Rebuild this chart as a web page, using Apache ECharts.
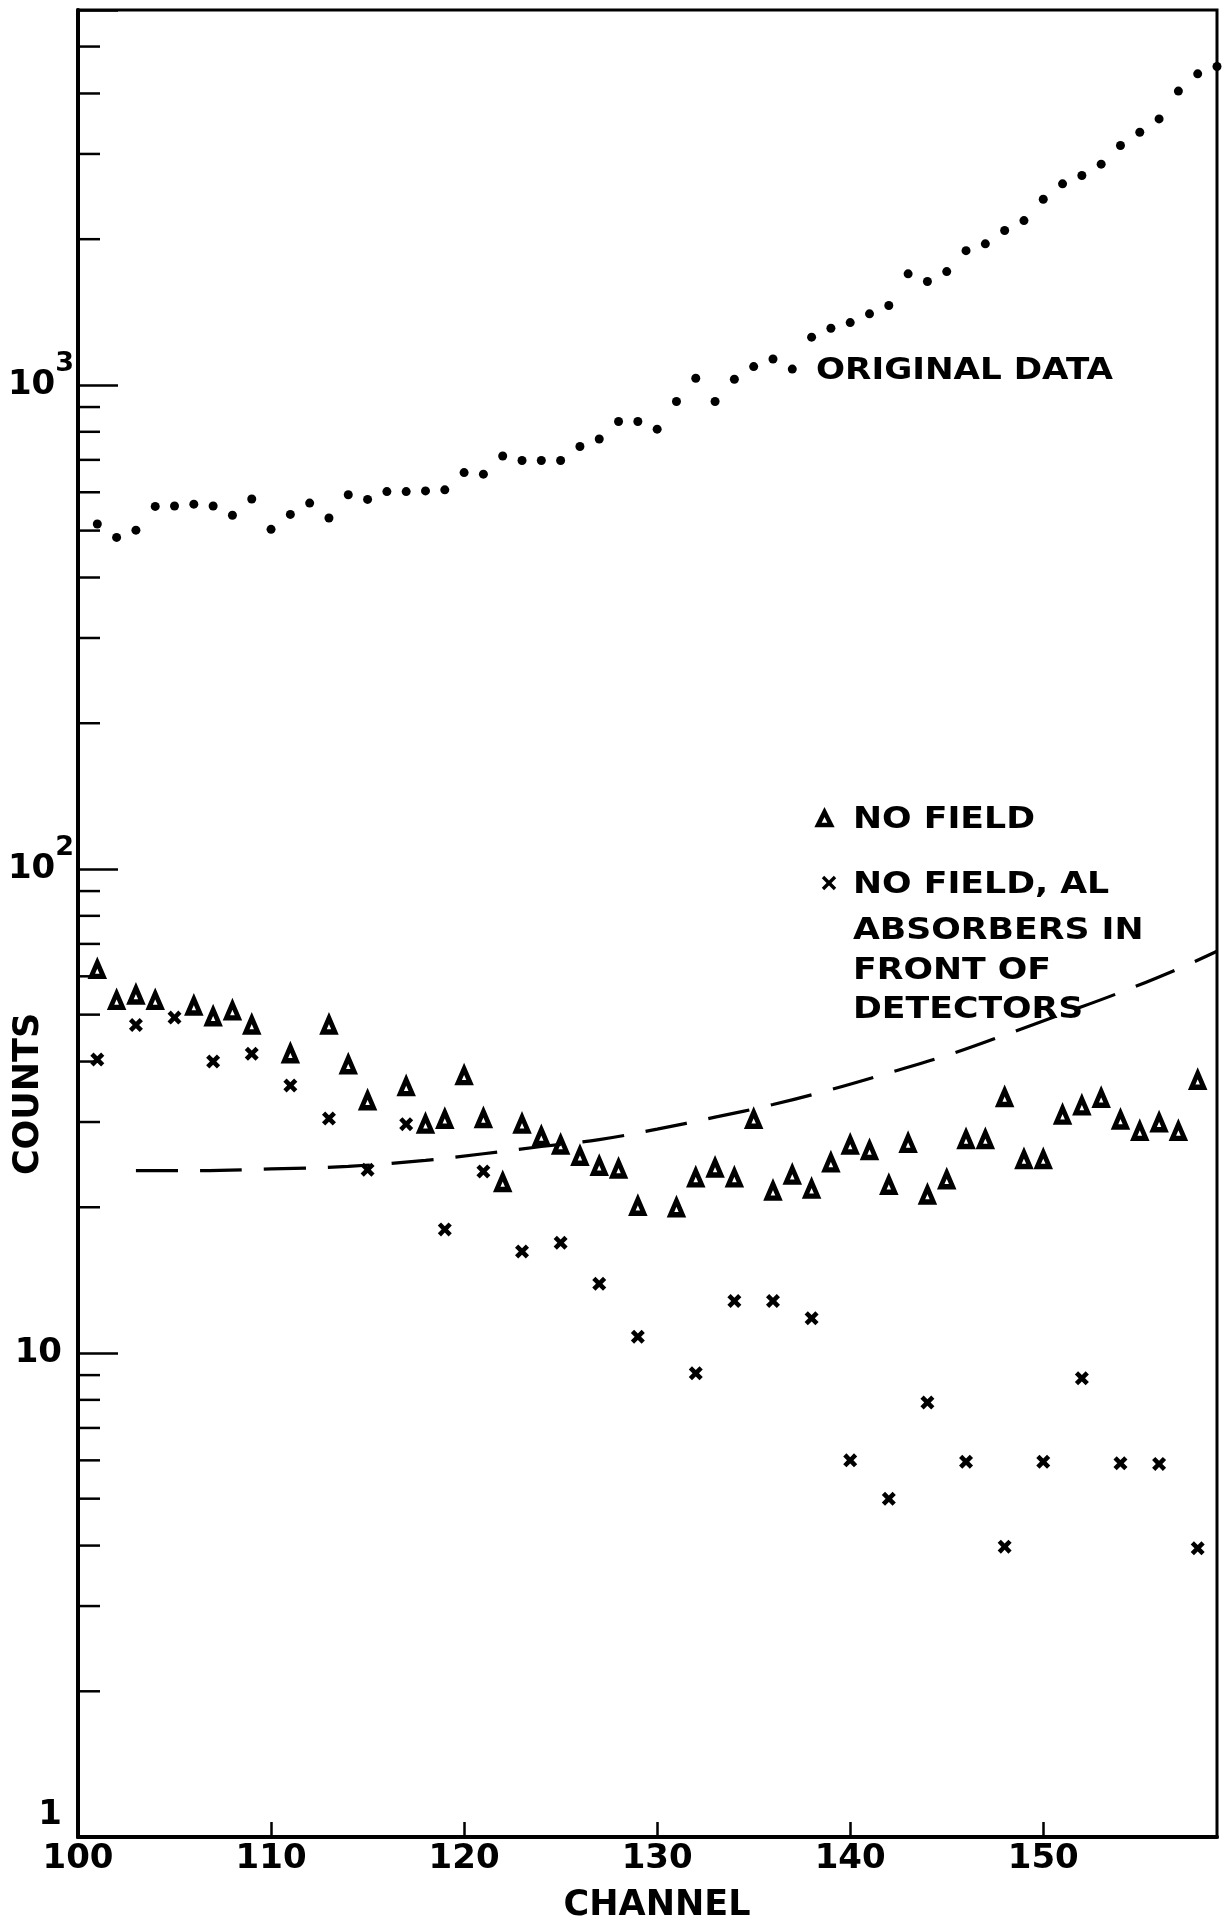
<!DOCTYPE html>
<html>
<head>
<meta charset="utf-8">
<title>Counts vs channel</title>
<script src="https://cdn.jsdelivr.net/npm/echarts@6/dist/echarts.min.js"></script>
<style>
html, body { margin: 0; padding: 0; background: #fff; }
#main { width: 1227px; height: 1924px; }
</style>
</head>
<body>
<div id="main"></div>
<script>
// original data (dots)
var channels_orig = [101, 102, 103, 104, 105, 106, 107, 108, 109, 110,
                     111, 112, 113, 114, 115, 116, 117, 118, 119, 120,
                     121, 122, 123, 124, 125, 126, 127, 128, 129, 130,
                     131, 132, 133, 134, 135, 136, 137, 138, 139, 140,
                     141, 142, 143, 144, 145, 146, 147, 148, 149, 150,
                     151, 152, 153, 154, 155, 156, 157, 158, 159];
var counts_orig = [516, 484, 501, 561, 562, 567, 562, 538, 581, 503,
                   540, 570, 531, 593, 580, 602, 602, 604, 607, 659,
                   654, 713, 698, 698, 698, 746, 773, 840, 840, 810,
                   924, 1032, 924, 1027, 1091, 1131, 1078, 1255, 1309, 1345,
                   1402, 1459, 1696, 1635, 1714, 1894, 1956, 2084, 2185, 2418,
                   2602, 2707, 2858, 3123, 3327, 3544, 4046, 4391, 4548];

// no field (triangles)
var channels_nofield = [101, 102, 103, 104, 106, 107, 108, 109, 111, 113,
                        114, 115, 117, 118, 119, 120, 121, 122, 123, 124,
                        125, 126, 127, 128, 129, 131, 132, 133, 134, 135,
                        136, 137, 138, 139, 140, 141, 142, 143, 144, 145,
                        146, 147, 148, 149, 150, 151, 152, 153, 154, 155,
                        156, 157, 158];
var counts_nofield = [62.0, 53.5, 54.9, 53.5, 52.1, 49.5, 50.9, 47.6, 41.5, 47.6,
                      39.4, 33.2, 35.5, 29.7, 30.4, 37.4, 30.5, 22.5, 29.7, 28.0,
                      26.9, 25.5, 24.3, 24.0, 20.1, 19.95, 23.0, 24.1, 23.0, 30.4,
                      21.6, 23.3, 21.8, 24.7, 26.9, 26.2, 22.2, 27.1, 21.2, 22.8,
                      27.6, 27.6, 33.7, 25.1, 25.1, 31.0, 32.4, 33.6, 30.3, 28.7,
                      29.9, 28.7, 36.6];

// no field, Al absorbers (crosses)
var channels_absorber = [101, 103, 105, 107, 109, 111, 113, 115, 117, 119,
                         121, 123, 125, 127, 129, 132, 134, 136, 138, 140,
                         142, 144, 146, 148, 150, 152, 154, 156, 158];
var counts_absorber = [40.4, 47.6, 49.3, 40.0, 41.5, 35.7, 30.5, 23.9, 29.7, 18.0,
                       23.7, 16.2, 16.9, 13.9, 10.8, 9.08, 12.8, 12.8, 11.8, 6.0,
                       5.0, 7.9, 5.96, 3.98, 5.96, 8.87, 5.92, 5.9, 3.95];

// dashed curve, read at a few channels
var channels_curve = [103, 106, 110, 114, 118, 121, 124, 127, 130, 133,
                      136, 139, 142, 145, 148, 151, 154, 157, 159];
var counts_curve = [23.8, 23.8, 24.0, 24.3, 25.0, 25.8, 26.7, 27.6, 29.0, 30.7,
                    32.6, 35.0, 37.9, 41.2, 45.4, 50.2, 55.6, 62.2, 67.6];

// minor ticks of the log paper
var y_minor_ticks = [2, 3, 4, 5, 6, 7, 8, 9,
                     20, 30, 40, 50, 60, 70, 80, 90,
                     200, 300, 400, 500, 600, 700, 800, 900,
                     2000, 3000, 4000, 5000];

var FONT = '"DejaVu Sans", sans-serif';

function pairs(xs, ys) {
    var out = [];
    for (var i = 0; i < xs.length; i++) out.push([xs[i], ys[i]]);
    return out;
}

var cross_path = 'path://M0,2.3 L2.3,0 L5,2.7 L7.7,0 L10,2.3 L7.3,5 L10,7.7 L7.7,10 L5,7.3 L2.3,10 L0,7.7 L2.7,5 Z';

function counts_option() {
    return {
        animation: false,
        backgroundColor: '#fff',
        grid: {
            left: 78, right: 10, top: 10, bottom: 87,
            show: true, borderColor: '#000', borderWidth: 3
        },
        xAxis: {
            type: 'value',
            min: 100,
            max: 159,
            interval: 10,
            axisLine: { show: true, lineStyle: { color: '#000', width: 4 } },
            axisTick: { show: true, inside: true, length: 15, lineStyle: { color: '#000', width: 2.5 } },
            axisLabel: {
                color: '#000', fontFamily: FONT, fontWeight: 'bold', fontSize: 34, margin: 5,
                showMaxLabel: false,
                formatter: function (v) { return v % 10 === 0 ? String(v) : ''; }
            },
            splitLine: { show: false }
        },
        yAxis: {
            type: 'log',
            logBase: 10,
            min: 1,
            max: 5950,
            axisLine: { show: true, lineStyle: { color: '#000', width: 4 } },
            axisTick: { show: true, inside: true, length: 40, lineStyle: { color: '#000', width: 2.5 } },
            axisLabel: {
                color: '#000', fontFamily: FONT, fontWeight: 'bold', fontSize: 34, margin: 4,
                formatter: function (v) {
                    var r = Math.round(v);
                    if (r === 1000) return '{b|10}{s|3}';
                    if (r === 100) return '{b|10}{s|2}';
                    if (r === 10) return '{t|10}';
                    if (r === 1) return '{one|1}';
                    return '';
                },
                rich: {
                    b: { fontFamily: FONT, fontWeight: 'bold', fontSize: 34, color: '#000' },
                    s: { fontFamily: FONT, fontWeight: 'bold', fontSize: 27, color: '#000', padding: [0, 0, 42, 0] },
                    t: { fontFamily: FONT, fontWeight: 'bold', fontSize: 34, color: '#000', padding: [0, 12, 0, 0] },
                    one: { fontFamily: FONT, fontWeight: 'bold', fontSize: 34, color: '#000', padding: [0, 12, 44, 0] }
                }
            },
            splitLine: { show: false }
        },
        series: [
            {
                name: 'ORIGINAL DATA',
                type: 'scatter',
                symbol: 'circle',
                symbolSize: 9,
                itemStyle: { color: '#000', opacity: 1 },
                data: pairs(channels_orig, counts_orig)
            },
            {
                name: 'NO FIELD',
                type: 'scatter',
                symbol: 'triangle',
                symbolSize: [12, 14],
                itemStyle: { color: '#fff', borderColor: '#000', borderWidth: 5, opacity: 1 },
                data: pairs(channels_nofield, counts_nofield)
            },
            {
                name: 'NO FIELD, AL ABSORBERS',
                type: 'scatter',
                symbol: cross_path,
                symbolSize: 14,
                itemStyle: { color: '#000', opacity: 1 },
                data: pairs(channels_absorber, counts_absorber)
            },
            {
                name: 'curve',
                type: 'line',
                smooth: 0.4,
                showSymbol: false,
                lineStyle: { color: '#000', width: 3.2, type: [42, 22] },
                data: pairs(channels_curve, counts_curve)
            },
            {
                // minor ticks on the left axis
                name: 'minor ticks',
                type: 'scatter',
                silent: true,
                symbol: 'rect',
                symbolSize: [22, 2.5],
                symbolOffset: [11, 0],
                itemStyle: { color: '#000', opacity: 1 },
                data: y_minor_ticks.map(function (v) { return [100, v]; })
            }
        ],
        graphic: [
            { type: 'text', x: 816, y: 371, scaleX: 1.14,
              style: { text: 'ORIGINAL DATA', font: 'bold 30px ' + FONT, fill: '#000', textAlign: 'left', textVerticalAlign: 'middle' } },
            { type: 'polygon', shape: { points: [[818, 825], [824.5, 812], [831, 825]] },
              style: { fill: '#fff', stroke: '#000', lineWidth: 4.5 } },
            { type: 'text', x: 853, y: 820, scaleX: 1.12,
              style: { text: 'NO FIELD', font: 'bold 31px ' + FONT, fill: '#000', textAlign: 'left', textVerticalAlign: 'middle' } },
            { type: 'line', shape: { x1: 823, y1: 877, x2: 835, y2: 889 }, style: { stroke: '#000', lineWidth: 3.4 } },
            { type: 'line', shape: { x1: 835, y1: 877, x2: 823, y2: 889 }, style: { stroke: '#000', lineWidth: 3.4 } },
            { type: 'text', x: 853, y: 885, scaleX: 1.12,
              style: { text: 'NO FIELD, AL', font: 'bold 31px ' + FONT, fill: '#000', textAlign: 'left', textVerticalAlign: 'middle' } },
            { type: 'text', x: 853, y: 931, scaleX: 1.12,
              style: { text: 'ABSORBERS IN', font: 'bold 31px ' + FONT, fill: '#000', textAlign: 'left', textVerticalAlign: 'middle' } },
            { type: 'text', x: 853, y: 971, scaleX: 1.12,
              style: { text: 'FRONT OF', font: 'bold 31px ' + FONT, fill: '#000', textAlign: 'left', textVerticalAlign: 'middle' } },
            { type: 'text', x: 853, y: 1010, scaleX: 1.12,
              style: { text: 'DETECTORS', font: 'bold 31px ' + FONT, fill: '#000', textAlign: 'left', textVerticalAlign: 'middle' } },
            { type: 'text', x: 657, y: 1906,
              style: { text: 'CHANNEL', font: 'bold 35px ' + FONT, fill: '#000', textAlign: 'center', textVerticalAlign: 'middle' } },
            { type: 'text', x: 29, y: 1094, rotation: Math.PI / 2,
              style: { text: 'COUNTS', font: 'bold 35px ' + FONT, fill: '#000', textAlign: 'center', textVerticalAlign: 'middle' } }
        ]
    };
}

var counts_chart = echarts.init(document.getElementById('main'));
counts_chart.setOption(counts_option());
</script>
</body>
</html>
